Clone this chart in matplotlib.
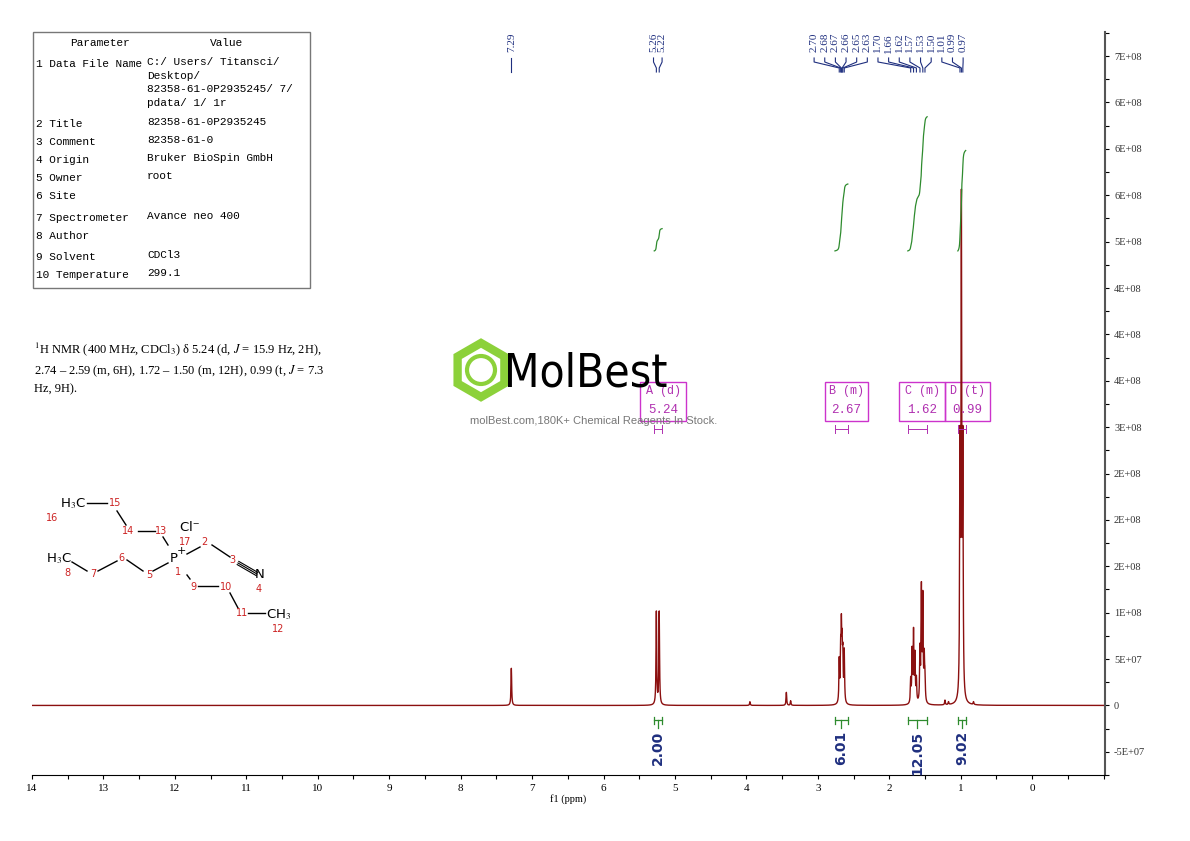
import numpy as np
import matplotlib
matplotlib.use("Agg")
import matplotlib.pyplot as plt
from matplotlib.patches import Rectangle, RegularPolygon, Circle
import matplotlib.transforms as mtrans

plt.rcParams['mathtext.fontset'] = 'stix'

# ---------------- data ----------------
peak_ppm = [7.29, 5.26, 5.22, 3.95, 3.44, 3.38,
            2.70, 2.68, 2.67, 2.66, 2.65, 2.63,
            1.70, 1.68, 1.66, 1.64, 1.62, 1.57, 1.55, 1.53, 1.51, 1.50,
            1.22, 1.17, 1.01, 0.99, 0.97, 0.82]
peak_height = [4.0e7, 1.0e8, 1.0e8, 4e6, 1.4e7, 5e6,
               4.5e7, 5.0e7, 7.0e7, 5.0e7, 4.5e7, 5.5e7,
               2.5e7, 5.5e7, 7.5e7, 5.0e7, 2.5e7, 5.5e7, 1.2e8, 1.1e8, 4.5e7, 2.5e7,
               5e6, 3e6, 2.6e8, 5.2e8, 2.6e8, 3e6]
label_ppm = [7.29, 5.26, 5.22,
             2.70, 2.68, 2.67, 2.66, 2.65, 2.63,
             1.70, 1.66, 1.62, 1.57, 1.53, 1.50, 1.01, 0.99, 0.97]
int_regions = [(5.29, 5.18), (2.76, 2.58), (1.74, 1.47), (1.04, 0.93)]
int_values = [2.00, 6.01, 12.05, 9.02]
mult_names = ["A (d)", "B (m)", "C (m)", "D (t)"]
mult_shift = ["5.24", "2.67", "1.62", "0.99"]
mult_box = [(5.49, 4.84), (2.90, 2.30), (1.86, 1.22), (1.22, 0.59)]

table_rows = [("Parameter", "Value"),
              ("1 Data File Name", "C:/ Users/ Titansci/\nDesktop/\n82358-61-0P2935245/ 7/\npdata/ 1/ 1r"),
              ("2 Title", "82358-61-0P2935245"),
              ("3 Comment", "82358-61-0"),
              ("4 Origin", "Bruker BioSpin GmbH"),
              ("5 Owner", "root"),
              ("6 Site", ""),
              ("7 Spectrometer", "Avance neo 400"),
              ("8 Author", ""),
              ("9 Solvent", "CDCl3"),
              ("10 Temperature", "299.1")]
row_y = [43, 64, 124, 142, 160, 178, 196, 218, 236, 257, 275]

# ---------------- figure ----------------
W, H = 1190, 841
fig = plt.figure(figsize=(11.9, 8.41), dpi=100)
ax = fig.add_axes([32 / W, 1 - 775 / H, (1105 - 32) / W, (775 - 32) / H])

x = np.linspace(-1.1, 14.1, 152001)
hw = 0.0055
y = np.zeros_like(x)
for p, h in zip(peak_ppm, peak_height):
    y += h / (1 + ((x - p) / hw) ** 2)
ax.plot(x, y, color='#8B1010', lw=1.0)

ax.set_xlim(14, -1.02)
ax.set_ylim(-7.3e7, 7.26e8)
for s in ['left', 'top']:
    ax.spines[s].set_visible(False)
ax.spines['right'].set_color('#555555')
ax.spines['right'].set_linewidth(1.5)
ax.yaxis.tick_right()
yt = np.arange(-5e7, 7.01e8, 5e7)
ax.set_yticks(yt)
ax.set_yticklabels(['0' if abs(v) < 1 else '{:.0E}'.format(v) for v in yt],
                   fontsize=7.5, family='Liberation Serif', color='#333333')
ax.set_yticks(np.arange(-7.5e7, 7.26e8, 5e7), minor=True)
ax.set_xticks(np.arange(0, 15, 1))
ax.set_xticklabels([str(i) for i in range(15)], fontsize=8, family='Liberation Serif')
ax.set_xticks(np.arange(-1, 14.01, 0.5), minor=True)
ax.tick_params(axis='both', which='both', direction='out', length=3, width=0.8)
ax.set_xlabel('f1 (ppm)', fontsize=7.5, family='Liberation Serif', labelpad=1)

# integrals
scale = 1.2e7
base = 4.9e8
for (a, b), v in zip(int_regions, int_values):
    m = (x <= a) & (x >= b)
    xs = x[m][::-1]
    ys = y[m][::-1]
    c = np.cumsum(ys)
    c = c / c[-1] * v * scale
    ax.plot(xs, base + c, color='#2E8B2E', lw=0.9)
    ax.plot([a, b], [-1.6e7, -1.6e7], color='#2E8B2E', lw=0.9)
    for e in (a, b):
        ax.plot([e, e], [-1.2e7, -2.0e7], color='#2E8B2E', lw=0.9)
    ax.plot([(a + b) / 2] * 2, [-1.6e7, -2.4e7], color='#2E8B2E', lw=0.9)
    ax.text((a + b) / 2, -2.7e7, f"{v:.2f}", rotation=90, ha='center', va='top',
            fontsize=10, fontweight='bold', color='#1F2F7F')

# multiplet boxes
for (l, r), nm, sh, (a, b) in zip(mult_box, mult_names, mult_shift, int_regions):
    ax.add_patch(Rectangle((r, 3.07e8), l - r, 0.42e8, fill=False, ec='#CC33CC', lw=1))
    ax.text((l + r) / 2, 3.39e8, nm, ha='center', va='center', fontsize=8.5,
            family='Liberation Mono', color='#B030B0')
    ax.text((l + r) / 2, 3.18e8, sh, ha='center', va='center', fontsize=9,
            family='Liberation Mono', color='#B030B0')
    ax.plot([a, b], [2.98e8, 2.98e8], color='#B030B0', lw=0.7)
    for e in (a, b):
        ax.plot([e, e], [2.94e8, 3.02e8], color='#B030B0', lw=0.7)

# peak labels along top
trans = mtrans.blended_transform_factory(ax.transData, ax.transAxes)
def fy(px):
    return (775 - px) / 743
groups = [[0], [1, 2], list(range(3, 18))]
pos = {}
pos[0] = 7.29
pos[1], pos[2] = 5.30, 5.18
n = len(groups[2])
left = (1032 - 814) / 71.43
right = (1032 - 963) / 71.43
for k, i in enumerate(groups[2]):
    pos[i] = left + (right - left) * k / (n - 1)
for i, p in enumerate(label_ppm):
    lx = pos[i]
    ax.text(lx, fy(33), f"{p:.2f}", rotation=90, ha='center', va='top', transform=trans,
            fontsize=8, family='Liberation Serif', color='#1F2F7F')
    ax.plot([lx, lx, p, p], [fy(58), fy(62), fy(68), fy(72)], transform=trans,
            color='#1F2F7F', lw=0.8, clip_on=False)

# ---------------- overlay (pixel coordinates) ----------------
ov = fig.add_axes([0, 0, 1, 1], facecolor='none')
ov.set_xlim(0, W)
ov.set_ylim(H, 0)
ov.axis('off')

ov.add_patch(Rectangle((33, 32), 277, 256, fill=False, ec='#777777', lw=1))
for (pn, val), ry in zip(table_rows, row_y):
    if ry == 43:
        ov.text(100, ry, pn, fontsize=8, family='Liberation Mono', ha='center', va='center')
        ov.text(226, ry, val, fontsize=8, family='Liberation Mono', ha='center', va='center')
    else:
        ov.text(36, ry, pn, fontsize=8, family='Liberation Mono', va='center')
        ov.text(147, ry - 7, val, fontsize=8, family='Liberation Mono', va='top',
                linespacing=1.45)

ov.text(34, 368, "$^1$H NMR (400 MHz, CDCl$_3$) δ 5.24 (d, $J$ = 15.9 Hz, 2H),\n"
        "2.74 – 2.59 (m, 6H), 1.72 – 1.50 (m, 12H), 0.99 (t, $J$ = 7.3\nHz, 9H).",
        fontsize=9, family='Liberation Serif', va='center', linespacing=1.5)

# watermark
ov.add_patch(RegularPolygon((481, 370), 6, radius=27, orientation=0, fill=False,
                            ec='#8CD13A', lw=6))
ov.add_patch(Circle((481, 370), 14, fill=False, ec='#8CD13A', lw=3))
ov.text(586, 374, "MolBest", fontsize=33, family='DejaVu Sans', fontstretch='condensed',
        ha='center', va='center', color='black')
ov.text(594, 421, "molBest.com,180K+ Chemical Reagents In Stock.", fontsize=8,
        family='Liberation Sans', ha='center', va='center', color='#777777')

# structure
red = '#CC2222'
segs = [((87, 503), (107, 503)), ((117, 511), (126, 525)), ((138, 531), (155, 531)),
        ((163, 537), (168, 545)), ((187, 554), (200, 547)), ((212, 545), (230, 557)),
        ((168, 563), (153, 571)), ((143, 571), (127, 560)), ((117, 561), (98, 571)),
        ((87, 571), (72, 562)), ((187, 575), (190, 579)), ((198, 586), (218, 586)),
        ((230, 593), (238, 608)), ((248, 613), (265, 613))]
for (a, b) in segs:
    ov.plot([a[0], b[0]], [a[1], b[1]], color='black', lw=1)
for off in (-1.6, 0, 1.6):
    ov.plot([238 + off * 0.5, 257 + off * 0.5], [563 - off, 574 - off], color='black', lw=0.8)
blk = [(73, 504, "H$_3$C"), (59, 559, "H$_3$C"), (189, 527, "Cl$^{-}$"),
       (174, 559, "P"), (181, 551, "+"), (260, 575, "N"), (279, 615, "CH$_3$")]
for xx, yy, t in blk:
    ov.text(xx, yy, t, fontsize=9.5 if t != "+" else 8, family='DejaVu Sans',
            ha='center', va='center')
nums = [(52, 518, "16"), (115, 503, "15"), (128, 531, "14"), (161, 531, "13"),
        (185, 542, "17"), (178, 572, "1"), (204, 542, "2"), (232, 560, "3"),
        (259, 589, "4"), (149, 575, "5"), (121, 558, "6"), (93, 574, "7"),
        (67, 573, "8"), (193, 587, "9"), (226, 587, "10"), (242, 613, "11"),
        (278, 629, "12")]
for xx, yy, t in nums:
    ov.text(xx, yy, t, fontsize=7, color=red, ha='center', va='center')

fig.savefig('out.png', dpi=100)
